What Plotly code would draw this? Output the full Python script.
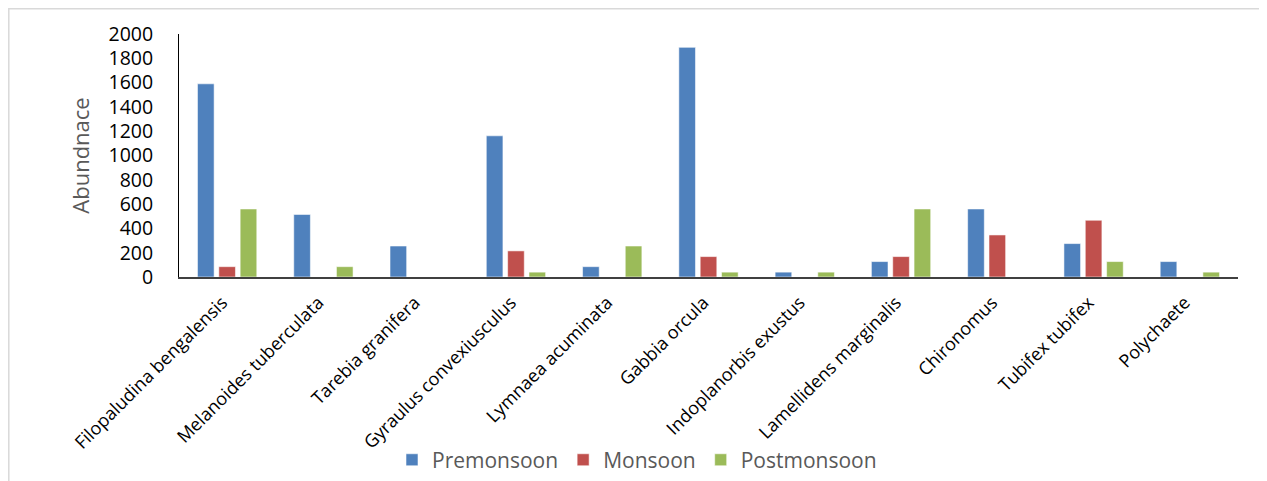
import plotly.graph_objects as go

categories = ["Filopaludina bengalensis", "Melanoides tuberculata", "Tarebia granifera",
              "Gyraulus convexiusculus", "Lymnaea acuminata", "Gabbia orcula",
              "Indoplanorbis exustus", "Lamellidens marginalis", "Chironomus",
              "Tubifex tubifex", "Polychaete"]
premonsoon = [1590, 515, 255, 1162, 85, 1890, 40, 127, 560, 275, 127]
monsoon = [85, 0, 0, 215, 0, 168, 0, 168, 346, 467, 0]
postmonsoon = [560, 85, 0, 40, 255, 40, 40, 560, 0, 127, 40]
y_ticks = [0, 200, 400, 600, 800, 1000, 1200, 1400, 1600, 1800, 2000]

OFF = 8  # page body margin
W, H = 1267 - OFF, 481 - OFF
L, R, T, B = 179 - OFF, 1238 - OFF, 34 - OFF, 277.5 - OFF
pw, ph = R - L, B - T

def px(x):
    return (x - OFF - L) / pw

def py(y):
    return (B - (y - OFF)) / ph

fig = go.Figure()
series = [("Premonsoon", premonsoon, "#4F81BD"),
          ("Monsoon", monsoon, "#C0504D"),
          ("Postmonsoon", postmonsoon, "#9BBB59")]
for name, vals, col in series:
    fig.add_trace(go.Bar(
        x=categories, y=vals, name=name,
        marker=dict(color=col, line=dict(color="rgba(255,255,255,0.55)", width=1)),
    ))

fig.update_layout(
    width=W, height=H,
    margin=dict(l=L, r=W - R, t=T, b=H - B, autoexpand=False),
    paper_bgcolor="white", plot_bgcolor="white",
    barmode="group", bargap=0.335, bargroupgap=0.22,
    font=dict(family="Open Sans", color="black"),
    showlegend=True,
    legend=dict(orientation="h", x=px(637), xanchor="center", y=py(461), yanchor="middle",
                font=dict(size=21, color="#595959"), traceorder="normal"),
    shapes=[dict(type="rect", xref="paper", yref="paper",
                 x0=px(8.8), x1=px(1266), y0=py(495), y1=py(8.8),
                 line=dict(color="#d9d9d9", width=1.5), fillcolor="rgba(0,0,0,0)", layer="below")],
)
fig.update_xaxes(
    type="category", showline=True, linecolor="#404040", linewidth=2,
    ticks="", tickangle=-45, tickfont=dict(size=18, color="black"),
    ticklabelstandoff=6, ticklabelshift=-5,
    showgrid=False, automargin=False,
)
fig.update_yaxes(
    range=[0, 2000], tickvals=y_ticks, ticktext=[str(v) for v in y_ticks],
    showline=True, linecolor="black", linewidth=1, showgrid=False, zeroline=False,
    ticks="", tickfont=dict(size=19.5, color="black"), ticklabelstandoff=21,
    title=dict(text="Abundnace", font=dict(size=22, color="#595959"), standoff=12),
    automargin=False,
)
fig.write_html("out.html")
